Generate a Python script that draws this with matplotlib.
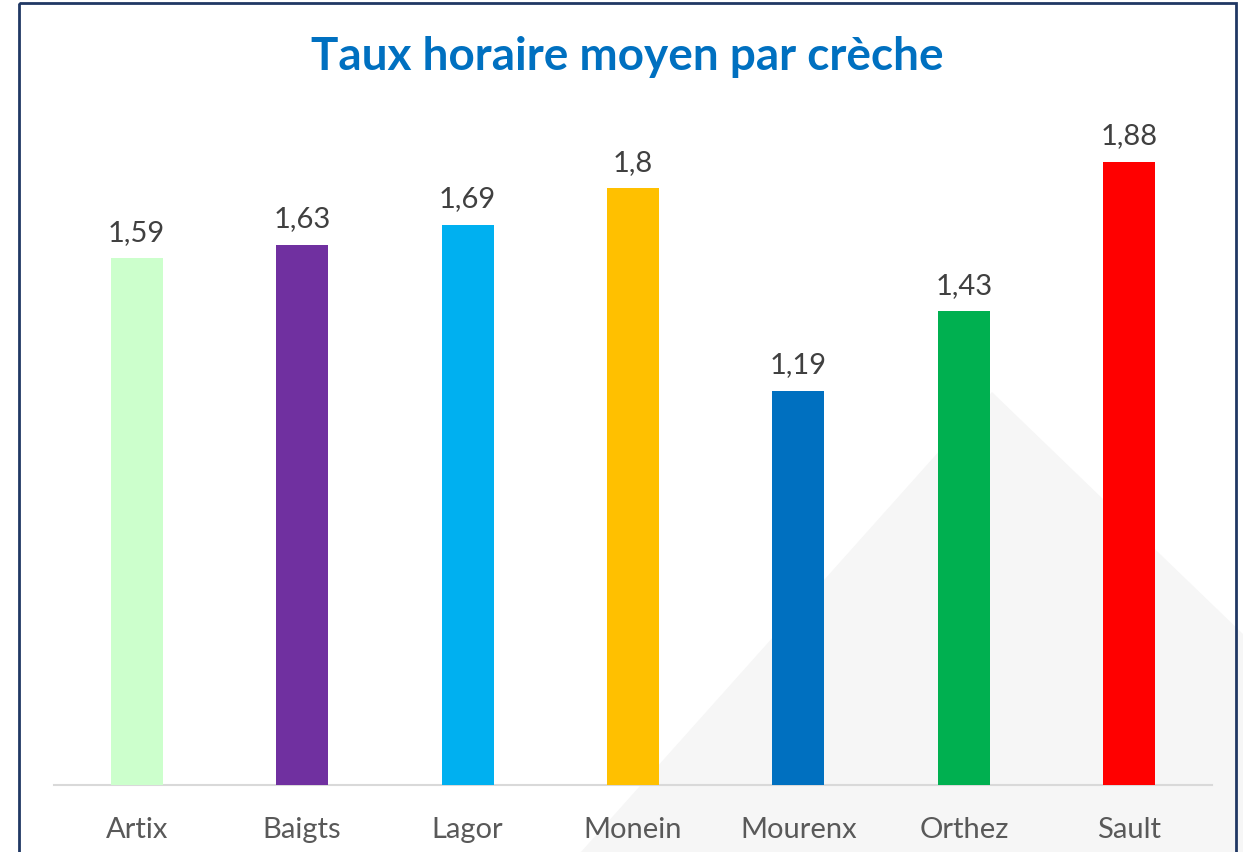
import matplotlib
matplotlib.use("Agg")
import matplotlib.pyplot as plt
from matplotlib.patches import Polygon, Rectangle

# data
creches = ["Artix", "Baigts", "Lagor", "Monein", "Mourenx", "Orthez", "Sault"]
taux = [1.59, 1.63, 1.69, 1.80, 1.19, 1.43, 1.88]
couleurs = ["#ccffcc", "#7030a0", "#00b0f0", "#ffc000", "#0070c0", "#00b050", "#ff0000"]
titre = "Taux horaire moyen par crèche"

W, H = 1243, 853
plt.rcParams['font.family'] = ['Lato', 'DejaVu Sans']

fig = plt.figure(figsize=(W / 100, H / 100), dpi=100)
fig.patch.set_facecolor("white")

# background layer: light grey triangle behind the bars
bg = fig.add_axes([0, 0, 1, 1], zorder=0)
bg.set_xlim(0, W)
bg.set_ylim(H, 0)
bg.axis("off")
bg.add_patch(Polygon([(992, 393), (1300, 690), (1300, H + 10), (572, H + 10)],
                     closed=True, facecolor="#f6f6f6", edgecolor="none"))
# dark frame around the chart
bg.add_patch(Rectangle((19, 4), 1236 - 19, H + 20, fill=False,
                       edgecolor="#203864", linewidth=2))

ax = fig.add_axes([54 / W, (H - 786) / H, (1212 - 54) / W, (786 - 123) / H], zorder=1)
ax.patch.set_alpha(0)

x = range(len(creches))
bars = ax.bar(x, taux, width=0.315, color=couleurs, zorder=3)

for b, v in zip(bars, taux):
    txt = f"{v:g}".replace(".", ",")
    ax.text(b.get_x() + b.get_width() / 2, v + 0.04, txt, ha="center", va="bottom",
            fontsize=21, color="#404040")

ax.set_xlim(-0.5, len(creches) - 0.5)
ax.set_ylim(0, 2.0)
ax.set_xticks(list(x))
ax.set_xticklabels(creches, fontsize=21, color="#595959")
ax.tick_params(axis="x", length=0, pad=22)
ax.set_yticks([])
for s in ["top", "right", "left"]:
    ax.spines[s].set_visible(False)
ax.spines["bottom"].set_color("#d9d9d9")
ax.spines["bottom"].set_linewidth(1.5)

fig.text(627 / W, 1 - 57 / H, titre, ha="center", va="center", fontsize=33,
         fontweight="bold", color="#0070c0")

fig.savefig("out.png", dpi=100)
